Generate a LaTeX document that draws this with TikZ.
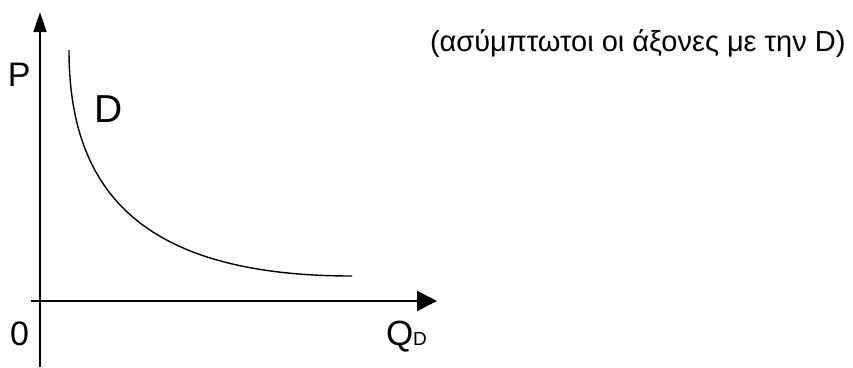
\documentclass[tikz,border=0pt]{standalone}
\usepackage{fontspec}
\setmainfont{Liberation Sans}
\usetikzlibrary{arrows.meta}
\begin{document}
\begin{tikzpicture}[x=1pt,y=-1pt,inner sep=0pt,outer sep=0pt,
axis/.style={line width=1.7pt},
lbl/.style={anchor=base west,font=\fontsize{34}{36}\selectfont}]
\useasboundingbox (0,0) rectangle (853,367);
\coordinate (ybot) at (40,367);
\coordinate (ytop) at (40,12);
\coordinate (xleft) at (31,301);
\coordinate (xright) at (437,301);
\coordinate (dstart) at (69,50);
\coordinate (dend) at (352,276);
\draw[axis,-{Triangle[length=20pt,width=13pt]}] (ybot) -- (ytop);
\draw[axis,-{Triangle[length=20pt,width=20pt]}] (xleft) -- (xright);
\draw[line width=1.4pt] (dstart) .. controls (69,190) and (140,276) .. (dend);
\draw (8,86) node[lbl] (P) {P};
\draw (94,122) node[lbl,font=\fontsize{39}{40}\selectfont] (D) {D};
\draw (10,345) node[lbl] (zero) {0};
\draw (386,345) node[lbl,font=\fontsize{35}{36}\selectfont] (QD) {Q\fontsize{19}{20}\selectfont D};
\draw (430,51) node[lbl,font=\fontsize{29}{30}\selectfont] (note) {(ασύμπτωτοι οι άξονες με την D)};
\end{tikzpicture}
\end{document}
